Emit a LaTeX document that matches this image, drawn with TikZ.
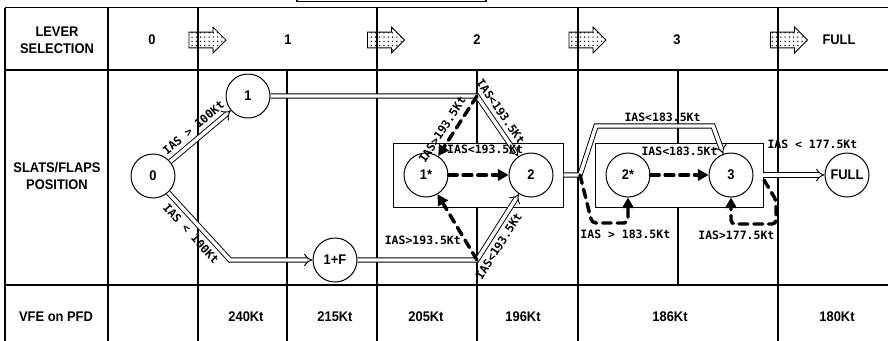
\documentclass[tikz,border=0pt]{standalone}
\usepackage{fontspec}
\setmainfont{Liberation Sans}[FakeStretch=0.92]
\setmonofont{DejaVu Sans Mono}
\usetikzlibrary{arrows.meta,shapes.arrows,patterns.meta}

\begin{document}
\begin{tikzpicture}[x=0.75pt, y=-0.75pt, line width=0.75pt]
\tikzset{
  tabline/.style={line width=0.9pt},
  headtext/.style={font=\fontsize{10.5pt}{12.75pt}\selectfont\bfseries, align=center, inner sep=0pt},
  posnode/.style={draw, circle, fill=white, minimum size=33pt, inner sep=0pt, font=\fontsize{10.5pt}{12.75pt}\selectfont\bfseries},
  posbox/.style={draw, fill=white, inner sep=0pt, minimum height=48pt},
  leverarrow/.style={single arrow, draw, line width=0.6pt, inner xsep=0pt, inner ysep=5.6pt, minimum height=27.75pt, single arrow head extend=3.75pt, pattern={Dots[distance=3.2pt, radius=0.55pt]}},
  hollow/.style={double, double distance=2.6pt, line width=0.7pt, -{Implies}},
  retract/.style={line width=2.6pt, dash pattern=on 6.5pt off 4.5pt, line cap=round, -{Triangle[length=8pt, width=8.5pt]}},
  speedlabel/.style={font=\fontsize{8.6pt}{10.5pt}\selectfont\ttfamily\bfseries, inner sep=2pt}
}
\useasboundingbox (0,0) rectangle (888,340);

% table
\draw[tabline] (297,0) -- (297,1.2) -- (486,1.2) -- (486,0);
\draw[tabline] (5,7.5) -- (890,7.5);
\draw[tabline] (5,70) -- (890,70);
\draw[tabline] (5,285) -- (890,285);
\draw[tabline] (5,7.5) -- (5,342);
\draw[tabline] (108,7.5) -- (108,342);
\draw[tabline] (198,7.5) -- (198,342);
\draw[tabline] (377,7.5) -- (377,342);
\draw[tabline] (578,7.5) -- (578,342);
\draw[tabline] (778,7.5) -- (778,342);
\draw[tabline] (287,70) -- (287,342);
\draw[tabline] (477,70) -- (477,342);
\draw[tabline] (678,70) -- (678,285);

% lever row
\node[headtext] (hlever) at (57,40) {LEVER\\SELECTION};
\node[headtext] (hzero) at (152,40) {0};
\node[headtext] (hone) at (288,40) {1};
\node[headtext] (htwo) at (477,40) {2};
\node[headtext] (hthree) at (677,40) {3};
\node[headtext] (hfull) at (839,40) {FULL};
\node[leverarrow] (a01) at (203.5,40) {};
\node[leverarrow] (a12) at (382,40) {};
\node[leverarrow] (a23) at (583.5,40) {};
\node[leverarrow] (a3f) at (785,40) {};

% position row
\node[headtext] (hpos) at (57,176) {SLATS/FLAPS\\POSITION};
\node[posbox, minimum width=127.5pt] (b1) at (478,175) {};
\node[posbox, minimum width=126pt] (b2) at (679,175) {};

\node[posnode] (n0) at (153,176) {0};
\node[posnode] (n1) at (248,96) {1};
\node[posnode] (n1f) at (335,260) {1+F};
\node[posnode] (n1s) at (426,175) {1*};
\node[posnode] (n2) at (531,175) {2};
\node[posnode] (n2s) at (628,175) {2*};
\node[posnode] (n3) at (731,175) {3};
\node[posnode] (nfull) at (847,175) {FULL};

\coordinate (k0) at (230,260);
\coordinate (c1) at (477,96);
\coordinate (c2) at (477,260);
\coordinate (c3) at (580,175);
\coordinate (c4) at (596,126);
\coordinate (c5) at (713,126);
\coordinate (c6) at (764,180);
\coordinate (c7) at (763,175);
\coordinate (d1) at (592,223);
\coordinate (d3) at (776,200);
\coordinate (d4) at (776,224);

\draw[hollow] (n0) -- node[speedlabel, above=2.5pt, sloped] {IAS > 100Kt} (n1);
\draw[hollow] (n0) -- node[speedlabel, below=2.5pt, sloped] {IAS < 100Kt} (k0) -- (n1f);
\draw[hollow] (n1) -- (c1) -- node[speedlabel, above=2.5pt, sloped, pos=0.36] {IAS<193.5Kt} (n2);
\draw[hollow] (n1f) -- (c2) -- node[speedlabel, below=2.5pt, sloped, pos=0.3] {IAS<193.5Kt} (n2);
\draw[hollow] (b1.east |- n2) -- (c3) -- (c4) -- node[speedlabel, above, yshift=1pt, xshift=6pt] {IAS<183.5Kt} (c5) -- (n3);
\draw[hollow] (c7) -- node[speedlabel, xshift=14pt, yshift=23pt] {IAS < 177.5Kt} (nfull);

\draw[retract] (c1) -- node[speedlabel, above=1.5pt, sloped, pos=0.66] {IAS>193.5Kt} (n1s);
\draw[retract] (c2) -- node[speedlabel, left, pos=0.3] {IAS>193.5Kt} (n1s);
\draw[retract] (n1s) -- node[speedlabel, xshift=5pt, yshift=19pt] {IAS<193.5Kt} (n2);
\draw[retract] (n2s) -- node[speedlabel, yshift=18pt] {IAS<183.5Kt} (n3);
\draw[retract, rounded corners=3pt] (c3) -- (d1) -- (n2s |- d1) node[speedlabel, below=2pt, xshift=-2pt] {IAS > 183.5Kt} -- (n2s);
\draw[retract, rounded corners=3pt] (c6) -- (d3) -- (d4) -- (n3 |- d4) node[speedlabel, below=2pt, xshift=4pt] {IAS>177.5Kt} -- (n3);

% speed row
\node[headtext] (hvfe) at (56,317) {VFE on PFD};
\node[headtext] (v240) at (246,317) {240Kt};
\node[headtext] (v215) at (335,317) {215Kt};
\node[headtext] (v205) at (426,317) {205Kt};
\node[headtext] (v196) at (523,317) {196Kt};
\node[headtext] (v186) at (670,317) {186Kt};
\node[headtext] (v180) at (837,317) {180Kt};
\end{tikzpicture}
\end{document}
